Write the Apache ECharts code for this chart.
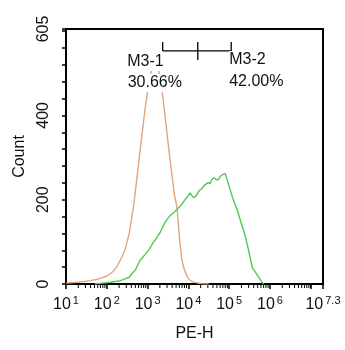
<!DOCTYPE html>
<html>
<head>
<meta charset="utf-8">
<script src="https://cdn.jsdelivr.net/npm/echarts@6/dist/echarts.min.js"></script>
<style>
  html, body { margin: 0; padding: 0; background: #fff; }
  #chart { width: 345px; height: 350px; }
</style>
</head>
<body>
<div id="chart"></div>
<script>
// PE-H positions are kept as log10(PE-H); counts are events per channel.
const controlLogPE = [1.0, 1.3, 1.6, 1.8, 2.0, 2.15, 2.25, 2.35, 2.45, 2.55, 2.65, 2.75, 2.85, 2.95, 3.02, 3.1, 3.18, 3.25, 3.32, 3.38, 3.45, 3.52, 3.59, 3.66, 3.72, 3.78, 3.84, 3.9, 3.97, 4.05, 4.15, 4.3, 4.5];
const controlCount = [2, 4, 8, 12, 19, 29, 42, 60, 82, 120, 180, 260, 345, 425, 470, 510, 528, 520, 480, 440, 380, 320, 263, 210, 183, 110, 57, 35, 17, 8, 4, 1, 0];

const stainedLogPE = [1.7, 1.9, 2.1, 2.3, 2.45, 2.55, 2.62, 2.7, 2.76, 2.82, 2.88, 2.93, 2.98, 3.04, 3.1, 3.15, 3.2, 3.25, 3.3, 3.36, 3.42, 3.47, 3.53, 3.6, 3.67, 3.73, 3.79, 3.86, 3.92, 3.98, 4.04, 4.08, 4.13, 4.18, 4.23, 4.28, 4.33, 4.38, 4.43, 4.48, 4.53, 4.58, 4.63, 4.68, 4.73, 4.78, 4.83, 4.87, 4.9, 4.95, 5.02, 5.1, 5.2, 5.3, 5.4, 5.48, 5.57, 5.65, 5.73, 5.8, 5.85];
const stainedCount = [0, 2, 4, 7, 12, 16, 25, 33, 45, 57, 63, 69, 75, 82, 92, 100, 106, 114, 121, 133, 145, 152, 160, 166, 172, 178, 184, 192, 200, 208, 216, 210, 205, 208, 216, 223, 226, 233, 237, 241, 238, 249, 252, 248, 247, 255, 259, 256, 262, 247, 225, 200, 175, 143, 112, 78, 38, 27, 15, 5, 0];

// Axis ticks
const xTickExponents = [1, 2, 3, 4, 5, 6, 7.3];
const yTickLabels = [0, 200, 400, 605];

// Marker gates: edges in log10(PE-H), bar height in counts
const gateEdgesLog = [3.37, 4.23, 5.05];
const gateBarCount = 553;
const gateNames = ['M3-1', 'M3-2'];
const gatePercents = ['30.66%', '42.00%'];

const toPairs = (xs, ys) => xs.map((x, i) => [x, ys[i]]);

// log-spaced minor ticks (2..9 x 10^n) plus 10^7
const minorTicks = [];
for (let n = 1; n <= 6; n++) {
  for (let k = 2; k <= 9; k++) minorTicks.push([Math.log10(k * Math.pow(10, n)), 0]);
}
minorTicks.push([7, 0]);

const FONT = 'Liberation Sans, Arial, sans-serif';

const chart = echarts.init(document.getElementById('chart'), null, { renderer: 'canvas' });

chart.setOption({
  animation: false,
  backgroundColor: '#fff',
  grid: {
    left: 66, right: 22, top: 29, bottom: 66,
    show: true, borderColor: '#000', borderWidth: 2, backgroundColor: 'transparent'
  },
  xAxis: {
    type: 'value',
    min: 1, max: 7.3, interval: 1,
    name: 'PE-H', nameLocation: 'middle', nameGap: 42,
    nameTextStyle: { fontSize: 16, color: '#111', fontFamily: FONT },
    axisLine: { show: true, lineStyle: { color: '#000', width: 2 } },
    axisTick: { show: true, length: 5, lineStyle: { color: '#000', width: 1.5 } },
    splitLine: { show: false },
    axisLabel: {
      margin: 11,
      color: '#111',
      showMaxLabel: true,
      formatter: function (v) {
        const hit = xTickExponents.find(e => Math.abs(e - v) < 1e-6);
        if (hit === undefined) return '';
        return '{b|10}{s|' + hit + '}';
      },
      rich: {
        b: { fontSize: 16, fontFamily: FONT, color: '#111' },
        s: { fontSize: 11, fontFamily: FONT, color: '#111', padding: [0, 0, 9, 2] }
      }
    }
  },
  yAxis: {
    type: 'value',
    min: 0, max: 605, interval: 40,
    name: 'Count', nameLocation: 'middle', nameGap: 38, nameRotate: 90,
    nameTextStyle: { fontSize: 16, color: '#111', fontFamily: FONT },
    axisLine: { show: true, lineStyle: { color: '#000', width: 2 } },
    axisTick: { show: true, length: 4, lineStyle: { color: '#000', width: 1.5 } },
    splitLine: { show: false },
    axisLabel: {
      rotate: 90, margin: 14, fontSize: 16, fontFamily: FONT, color: '#111',
      showMaxLabel: true,
      formatter: function (v) {
        return yTickLabels.some(t => Math.abs(t - v) < 1e-6) ? String(v) : '';
      }
    }
  },
  series: [
    {
      name: 'control',
      type: 'line',
      data: toPairs(controlLogPE, controlCount),
      showSymbol: false,
      smooth: false,
      lineStyle: { color: '#e3a47c', width: 1.4 },
      z: 2
    },
    {
      name: 'stained',
      type: 'line',
      data: toPairs(stainedLogPE, stainedCount),
      showSymbol: false,
      smooth: false,
      lineStyle: { color: '#4fc94f', width: 1.4 },
      z: 3
    },
    {
      name: 'minorTicks',
      type: 'custom',
      clip: false,
      silent: true,
      data: minorTicks,
      encode: { x: 0, y: 1 },
      renderItem: function (params, api) {
        const p = api.coord([api.value(0), 0]);
        return {
          type: 'line',
          shape: { x1: p[0], y1: p[1] + 1, x2: p[0], y2: p[1] + 4 },
          style: { stroke: '#000', lineWidth: 1 }
        };
      },
      z: 4
    },
    {
      name: 'gates',
      type: 'custom',
      clip: false,
      silent: true,
      data: [[gateEdgesLog[0], gateEdgesLog[1], gateEdgesLog[2], gateBarCount]],
      encode: { x: [0, 1, 2], y: 3 },
      renderItem: function (params, api) {
        const yv = api.value(3);
        const a = api.coord([api.value(0), yv]);
        const m = api.coord([api.value(1), yv]);
        const b = api.coord([api.value(2), yv]);
        const stroke = { stroke: '#000', lineWidth: 1.3 };
        const txt = (text, x, y, align) => ({
          type: 'text',
          style: {
            text: text, x: x, y: y, align: align, verticalAlign: 'middle',
            fill: '#111', font: '16px ' + FONT,
            backgroundColor: '#fff', padding: [1, 0, 1, 0]
          }
        });
        return {
          type: 'group',
          children: [
            { type: 'line', shape: { x1: a[0], y1: a[1], x2: b[0], y2: b[1] }, style: stroke },
            { type: 'line', shape: { x1: a[0], y1: a[1] - 9, x2: a[0], y2: a[1] }, style: stroke },
            { type: 'line', shape: { x1: m[0], y1: m[1] - 9, x2: m[0], y2: m[1] + 9 }, style: stroke },
            { type: 'line', shape: { x1: b[0], y1: b[1] - 9, x2: b[0], y2: b[1] }, style: stroke },
            txt(gateNames[0], a[0] + 1, a[1] + 11, 'right'),
            txt(gatePercents[0], a[0] - 35, a[1] + 32, 'left'),
            txt(gateNames[1], b[0] - 2, a[1] + 9, 'left'),
            txt(gatePercents[1], b[0] - 2, a[1] + 31, 'left')
          ]
        };
      },
      z: 10
    }
  ]
});
</script>
</body>
</html>
